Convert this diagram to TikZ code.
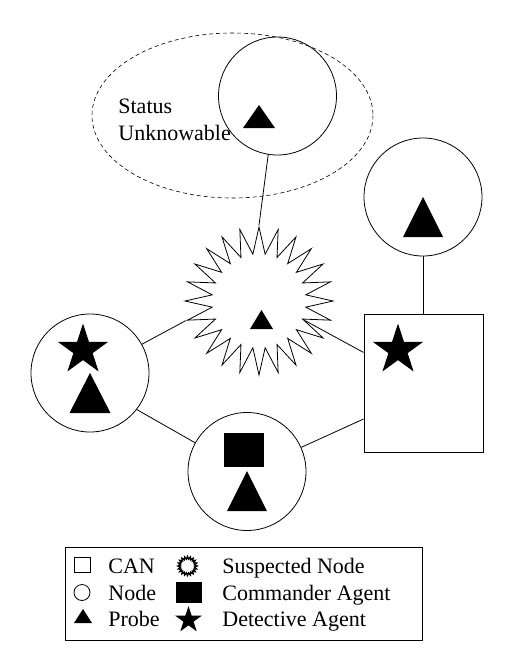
\documentclass[tikz,border=0pt]{standalone}
\usepackage{fontspec}
\setmainfont{Liberation Serif}
\usetikzlibrary{shapes.geometric}

% probe: x, base y, width, height
\newcommand{\probe}[4]{\fill (#1-#3/2,#2) -- (#1+#3/2,#2) -- (#1,#2-#4) -- cycle;}

\begin{document}
\begin{tikzpicture}[x=1pt,y=-1pt,line width=0.8pt,
    font=\fontsize{22}{26}\selectfont,
    site/.style={draw,circle,minimum size=118pt,inner sep=0pt},
    can/.style={draw,rectangle,minimum width=119pt,minimum height=138pt,inner sep=0pt},
    agent/.style={fill,star,star points=5,star point ratio=2.618,minimum size=#1,inner sep=0pt},
    agent/.default=53pt,
    burst/.style={draw,star,star points=24,star point ratio=1.57,minimum size=148pt,inner sep=0pt},
    legtxt/.style={anchor=base west,inner sep=0pt}]
    \useasboundingbox (0,0) rectangle (521,670);

    % unknowable region
    \draw[dash pattern=on 4pt off 3pt,line width=0.6pt](232.5,115.5) ellipse [x radius=140.5,y radius=82.5];
    \node[legtxt] (status) at (118,113) {Status};
    \node[legtxt] (unknow) at (118,140) {Unknowable};

    % nodes
    \node[site] (top) at (277.5,96) {};
    \node[site] (rc) at (423,197) {};
    \node[site] (lc) at (90,373) {};
    \node[site] (bc) at (247,471.5) {};
    \node[can] (can) at (423.5,383) {};
    \node[burst] (sb) at (259,301) {};

    % links
    \draw (top.261) -- (sb.90);
    \draw (rc.south) -- (rc.south |- can.north);
    \draw (lc.29) -- (sb.195);
    \draw (sb.337.5) -- (can.153);
    \draw (lc.322) -- (bc.151);
    \draw (bc.24) -- (can.211);

    % probes and agents
    \probe{259}{128}{32}{23}
    \probe{423}{237}{40}{40}
    \probe{261.5}{329}{23}{19}
    \probe{90}{413}{41}{40}
    \probe{247}{511}{40}{40}
    \node[agent] (det1) at (83,350) {};
    \node[agent] (det2) at (398,350) {};
    \node[fill,minimum width=40pt,minimum height=34pt,inner sep=0pt] (cmd) at (244,450) {};

    % legend
    \node[draw,minimum width=357pt,minimum height=93pt,inner sep=0pt] (legend) at (243.5,593.5) {};
    \node[draw,minimum width=16pt,minimum height=15pt,inner sep=0pt] (kcan) at (82.5,565) {};
    \node[draw,circle,minimum size=16pt,inner sep=0pt] (knode) at (82,592.5) {};
    \probe{83}{623}{18}{14}
    \node[draw,star,star points=20,star point ratio=1.35,minimum size=19pt,inner sep=0pt,line width=1.4pt] (ksb) at (187.5,566) {};
    \node[fill,minimum width=26pt,minimum height=21pt,inner sep=0pt] (kcmd) at (189,592.5) {};
    \node[agent=28pt] (kdet) at (188.5,620) {};
    \node[legtxt] (tcan) at (108,573) {CAN};
    \node[legtxt] (tnode) at (108,600) {Node};
    \node[legtxt] (tprobe) at (108,626) {Probe};
    \node[legtxt] (tsb) at (222,573) {Suspected Node};
    \node[legtxt] (tcmd) at (222,600) {Commander Agent};
    \node[legtxt] (tdet) at (222,626) {Detective Agent};
\end{tikzpicture}
\end{document}
